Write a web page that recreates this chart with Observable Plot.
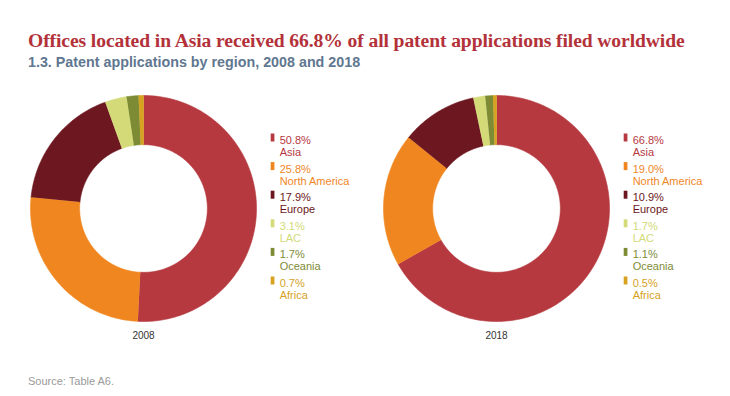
<!DOCTYPE html>
<html>
<head>
<meta charset="utf-8">
<script src="https://cdn.jsdelivr.net/npm/d3@7"></script>
<script src="https://cdn.jsdelivr.net/npm/@observablehq/plot@0.6"></script>
<style>
  html, body { margin: 0; padding: 0; background: #fff; }
  body { width: 730px; height: 396px; position: relative; overflow: hidden; font-family: "Liberation Sans", Arial, sans-serif; }
  #title { position: absolute; left: 28px; top: 30px; font-family: "Liberation Serif", "Times New Roman", serif; font-weight: bold; font-size: 19.6px; line-height: 22px; color: #b3323a; white-space: nowrap; letter-spacing: -0.1px; }
  #subtitle { position: absolute; left: 28px; top: 54px; font-weight: bold; font-size: 14.3px; line-height: 16px; color: #5f7790; white-space: nowrap; }
  #source { position: absolute; left: 28px; top: 375px; font-size: 11px; line-height: 12px; color: #9a9a9a; white-space: nowrap; }
  #c1 { position: absolute; left: 0px; top: 80px; }
  #c2 { position: absolute; left: 353px; top: 80px; }
</style>
</head>
<body>
<div id="title">Offices located in Asia received 66.8% of all patent applications filed worldwide</div>
<div id="subtitle">1.3. Patent applications by region, 2008 and 2018</div>
<div id="c1"></div>
<div id="c2"></div>
<div id="source">Source: Table A6.</div>
<script>
const regions = ["Asia", "North America", "Europe", "LAC", "Oceania", "Africa"];
const share2008 = [50.8, 25.8, 17.9, 3.1, 1.7, 0.7];
const share2018 = [66.8, 19.0, 10.9, 1.7, 1.1, 0.5];
const colors = ["#b5393f", "#f0861f", "#6d1720", "#d3da77", "#7e8b35", "#d6a21f"];
const years = ["2008", "2018"];

const U = 113;          // pixels per radius unit
const CX = 143;         // donut centre offset inside each svg
const H = 270;
const CY = 128;         // donut centre from svg top
const R_OUT = 1, R_IN = 0.565;

function py(pageY) { return (208 - pageY) / U; }

function donut(year, shares, width) {
  const total = d3.sum(shares);
  const rows = [];
  let acc = 0;
  regions.forEach((region, i) => {
    const a0 = acc / total * 2 * Math.PI;
    acc += shares[i];
    const a1 = acc / total * 2 * Math.PI;
    const n = Math.max(2, Math.ceil((a1 - a0) / (Math.PI / 240)));
    for (let k = 0; k <= n; k++) {
      const a = a0 + (a1 - a0) * k / n;
      rows.push({region, x: R_OUT * Math.sin(a), y: R_OUT * Math.cos(a)});
    }
    for (let k = n; k >= 0; k--) {
      const a = a0 + (a1 - a0) * k / n;
      rows.push({region, x: R_IN * Math.sin(a), y: R_IN * Math.cos(a)});
    }
  });
  const legend = regions.map((region, i) => ({region, share: shares[i], i}));
  const step = 28.6;
  return Plot.plot({
    width, height: H, margin: 0,
    style: {fontFamily: "'Liberation Sans', Arial, sans-serif", background: "transparent"},
    x: {domain: [-CX / U, (width - CX) / U], axis: null},
    y: {domain: [-(H - CY) / U, CY / U], axis: null},
    color: {domain: regions, range: colors},
    marks: [
      Plot.line(rows, {x: "x", y: "y", z: "region", fill: "region", stroke: "region", strokeWidth: 0.6}),
      Plot.rect(legend, {
        x1: 1.13, x2: 1.163,
        y1: d => py(141.5 + step * d.i), y2: d => py(133.5 + step * d.i),
        fill: "region"
      }),
      Plot.text(legend, {
        x: 1.205, y: d => py(140 + step * d.i),
        text: d => d.share.toFixed(1) + "%",
        fill: "region", textAnchor: "start", fontSize: 11
      }),
      Plot.text(legend, {
        x: 1.205, y: d => py(152 + step * d.i),
        text: "region",
        fill: "region", textAnchor: "start", fontSize: 11
      }),
      Plot.text([year], {x: 0, y: py(335), text: d => d, fontSize: 10, fill: "#333"})
    ]
  });
}

document.getElementById("c1").append(donut(years[0], share2008, 353));
document.getElementById("c2").append(donut(years[1], share2018, 377));
</script>
</body>
</html>
